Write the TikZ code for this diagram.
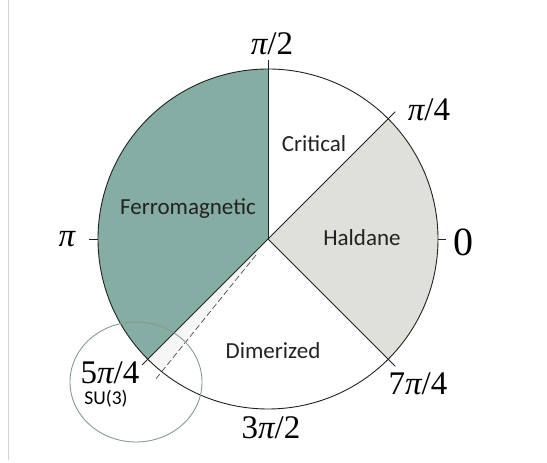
\documentclass[tikz,border=0pt]{standalone}
\usepackage{fontspec}
\setmainfont{Liberation Serif}
\newfontfamily\lblfont{Carlito}
\usetikzlibrary{calc}
\definecolor{ferro}{HTML}{85ADA3}
\definecolor{hald}{HTML}{DFE0D9}
\definecolor{strip}{HTML}{F6F6F6}
\definecolor{ringgray}{HTML}{8A9893}
\definecolor{inkc}{HTML}{222222}
\tikzset{
  edge/.style={draw=inkc, line width=0.9pt},
  anglbl/.style={text=black, inner sep=0pt, font=\fontsize{33}{35}\selectfont},
  phaselbl/.style={text=inkc, inner sep=0pt, font=\lblfont\fontsize{23}{25}\selectfont},
}
\newcommand{\ppi}{{\itshape π}}
\begin{document}
\begin{tikzpicture}[x=1pt,y=1pt]
\useasboundingbox (0,0) rectangle (547,463);
\draw[gray!35, line width=1pt] (8,463) -- (8,3);
\coordinate (C) at (268,224);
\coordinate (Dstart) at (256,208);
\coordinate (Dend) at (161.3,91.7);
\coordinate (Dtip) at (155,83);
% fills
\fill[ferro] (C) -- ++(90:170pt) arc[start angle=90,end angle=225,radius=170pt] -- cycle;
\fill[hald] (C) -- ++(45:170pt) arc[start angle=45,end angle=-45,radius=170pt] -- cycle;
\fill[strip] (C) -- ++(225:170pt) arc[start angle=225,end angle=231.1,radius=170pt] -- (Dend) -- (Dstart) -- cycle;
% dashed line
\draw[gray!60!black, line width=0.7pt, dash pattern=on 6pt off 3pt] (Dstart) -- (Dtip);
% circle and radii
\draw[edge] (C) circle[radius=170pt];
\draw[edge] (C) -- ++(90:179pt);
\draw[edge] (C) -- ++(45:180pt);
\draw[edge] (C) -- ++(-45:180pt);
\draw[edge] (C) -- ++(225:178pt);
\draw[edge] (C) ++(180:170pt) -- ++(-9pt,0);
\draw[edge] (C) ++(0:170pt) -- ++(8pt,0);
% SU(3) ring
\draw[ringgray, line width=0.9pt] (136,81) ellipse[x radius=66pt, y radius=60pt];
% angle labels
\node[anglbl] (a90) at (272,419) {\ppi/2};
\node[anglbl] (a45) at (429,353) {\ppi/4};
\node[anglbl] (a180) at (67,224) {\ppi};
\node[anglbl, font=\fontsize{40}{42}\selectfont] (a0) at (463,221) {0};
\node[anglbl] (a315) at (418,79) {7\ppi/4};
\node[anglbl] (a270) at (271,35) {3\ppi/2};
\node[anglbl] (a225) at (110,90) {5\ppi/4};
\node[text=black, inner sep=0pt, font=\lblfont\fontsize{19.5}{21}\selectfont] (su3) at (106,64) {SU(3)};
% phase labels
\node[phaselbl] (crit) at (314,319) {Critical};
\node[phaselbl] (ferr) at (188,254) {Ferromagnetic};
\node[phaselbl] (hal) at (362,225) {Haldane};
\node[phaselbl] (dim) at (273,112) {Dimerized};
\end{tikzpicture}
\end{document}
